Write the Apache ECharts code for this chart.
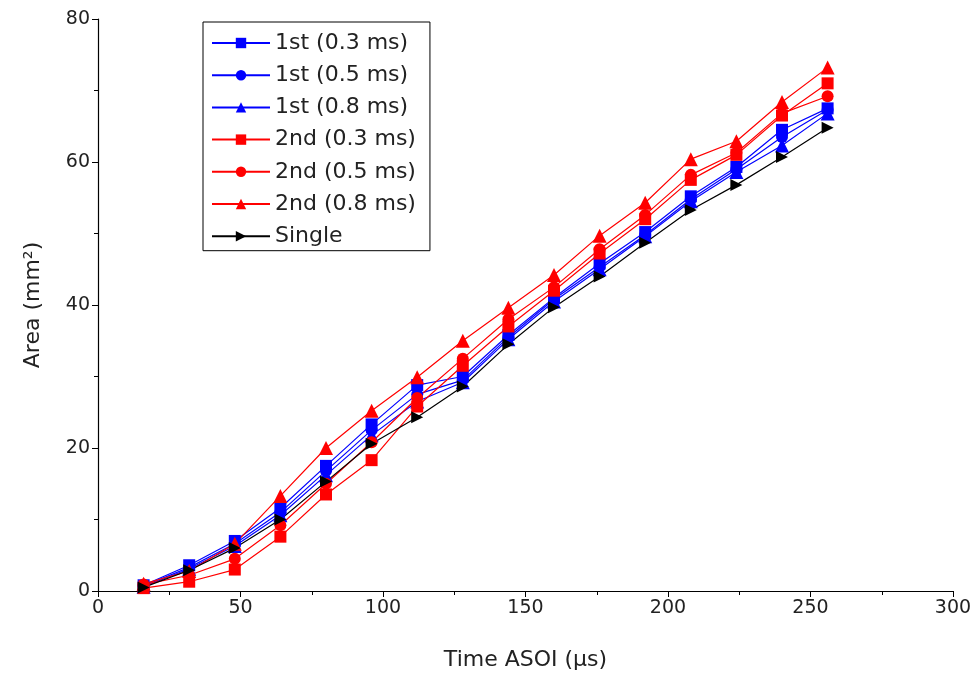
<!DOCTYPE html>
<html>
<head>
<meta charset="utf-8">
<script src="https://cdn.jsdelivr.net/npm/echarts@6/dist/echarts.min.js"></script>
<style>html,body{margin:0;padding:0;background:#fff}#c{width:979px;height:677px}</style>
</head>
<body>
<div id="c"></div>
<script>
const xTimes = [16,32,48,64,80,96,112,128,144,160,176,192,208,224,240,256];
const first03  = [0.8, 3.6, 7.0, 11.6, 17.5, 23.3, 28.8, 30.0, 35.8, 41.0, 45.8, 50.2, 55.2, 59.3, 64.5, 67.5];
const first05  = [0.7, 3.3, 6.6, 11.0, 16.8, 22.5, 27.5, 29.5, 35.5, 40.8, 45.3, 49.8, 54.8, 59.0, 63.5, 67.3];
const first08  = [0.6, 3.1, 6.3, 10.6, 16.2, 21.8, 26.5, 29.2, 35.2, 40.5, 45.0, 49.6, 54.5, 58.6, 62.3, 66.8];
const second03 = [0.4, 1.3, 3.0, 7.6, 13.5, 18.3, 25.8, 31.5, 37.0, 42.0, 47.2, 52.0, 57.5, 61.0, 66.5, 71.0];
const second05 = [0.9, 2.2, 4.5, 9.2, 15.0, 20.8, 27.0, 32.5, 38.0, 42.5, 47.8, 52.6, 58.2, 61.3, 66.8, 69.2];
const second08 = [1.0, 2.8, 6.6, 13.3, 20.0, 25.2, 29.9, 35.0, 39.6, 44.2, 49.7, 54.3, 60.4, 62.9, 68.4, 73.2];
const single   = [0.5, 2.9, 6.0, 10.0, 15.3, 20.6, 24.3, 28.6, 34.5, 39.7, 44.0, 48.7, 53.3, 56.8, 60.7, 64.8];
const seriesNames = ['1st (0.3 ms)','1st (0.5 ms)','1st (0.8 ms)','2nd (0.3 ms)','2nd (0.5 ms)','2nd (0.8 ms)','Single'];
const seriesData = [first03, first05, first08, second03, second05, second08, single];
const seriesColors = ['#0000ff','#0000ff','#0000ff','#ff0000','#ff0000','#ff0000','#000000'];
const seriesSymbols = ['rect','circle','triangle','rect','circle','triangle','path://M0,0 L10,5 L0,10 Z'];

const font = 'DejaVu Sans, Liberation Sans, Arial, sans-serif';
const chart = echarts.init(document.getElementById('c'), null, {renderer:'canvas'});
chart.setOption({
  animation: false,
  backgroundColor: '#fff',
  grid: {left: 98, right: 26, top: 19, bottom: 86},
  legend: {
    orient: 'vertical', left: 203, top: 22,
    itemWidth: 58, itemHeight: 13, itemGap: 9.2,
    padding: [9.5, 14, 3, 8],
    borderColor: '#000', borderWidth: 1,
    textStyle: {fontFamily: font, fontSize: 22, color: '#222', lineHeight: 23},
    data: seriesNames
  },
  xAxis: {
    type: 'value', min: 0, max: 300, interval: 50,
    name: 'Time ASOI (µs)', nameLocation: 'middle', nameGap: 58,
    nameTextStyle: {fontFamily: font, fontSize: 22, color: '#222'},
    axisLine: {lineStyle: {color: '#000', width: 1.2}},
    axisTick: {show: true, length: 6, lineStyle: {color: '#000'}},
    minorTick: {show: true, splitNumber: 2, length: 4, lineStyle: {color: '#000'}},
    splitLine: {show: false},
    axisLabel: {fontFamily: font, fontSize: 19, color: '#222', margin: 8}
  },
  yAxis: {
    type: 'value', min: 0, max: 80, interval: 20,
    name: 'Area (mm²)', nameLocation: 'middle', nameGap: 54,
    nameTextStyle: {fontFamily: font, fontSize: 22, color: '#222'},
    axisLine: {show: true, lineStyle: {color: '#000', width: 1.2}},
    axisTick: {show: true, length: 6, lineStyle: {color: '#000'}},
    minorTick: {show: true, splitNumber: 2, length: 4, lineStyle: {color: '#000'}},
    splitLine: {show: false},
    axisLabel: {fontFamily: font, fontSize: 19, color: '#222', margin: 8}
  },
  series: seriesNames.map((n, i) => ({
    name: n, type: 'line',
    data: xTimes.map((x, j) => [x, seriesData[i][j]]),
    symbol: seriesSymbols[i],
    symbolSize: i === 6 ? [12, 12] : (seriesSymbols[i] === 'triangle' ? 14 : 12),
    color: seriesColors[i],
    itemStyle: {color: seriesColors[i]},
    lineStyle: {color: seriesColors[i], width: 1.2},
    showAllSymbol: true
  }))
});
</script>
</body>
</html>
